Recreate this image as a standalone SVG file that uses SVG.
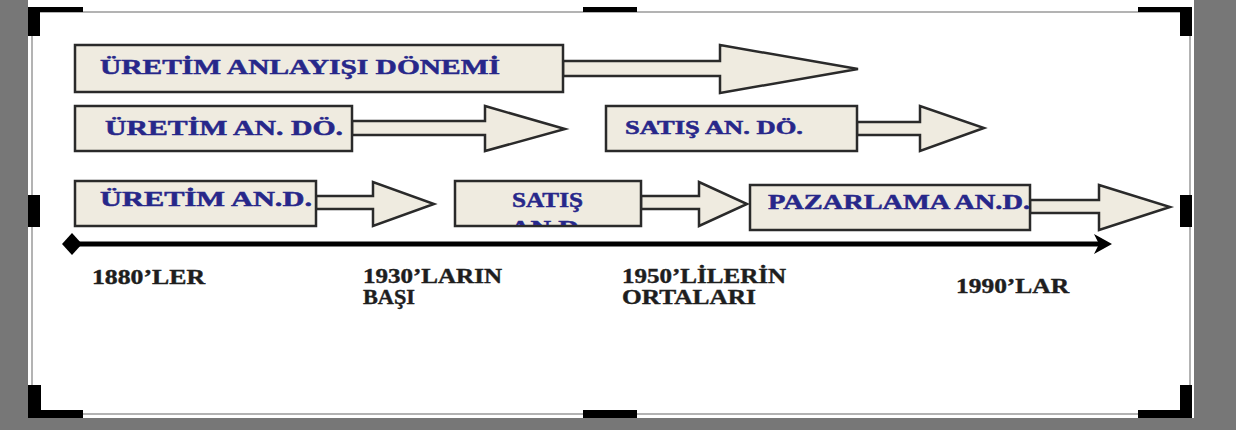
<svg xmlns="http://www.w3.org/2000/svg" width="1236" height="430" viewBox="0 0 1236 430">
<defs>
<style>
.bg{fill:#777777}
.page{fill:#ffffff}
.frame{fill:none;stroke:#9a9a9a;stroke-width:1.5}
.hdl{fill:#000000}
.box{fill:#efebe0;stroke:#2a2a2a;stroke-width:2.5}
.arr{fill:#efebe0;stroke:#2a2a2a;stroke-width:2.5;stroke-linejoin:miter}
.lbl{font-family:"Liberation Serif","Times New Roman",serif;font-weight:bold;fill:#27278a;stroke:#27278a;stroke-width:0.5}
.yr{font-family:"Liberation Serif","Times New Roman",serif;font-weight:bold;fill:#1e1e1e;stroke:#1e1e1e;stroke-width:0.4;font-size:20px}
.axis{stroke:#000;stroke-width:5;fill:none}
</style>
<clipPath id="clipSatis"><rect x="455" y="181" width="187" height="44"/></clipPath>
</defs>
<rect class="bg" x="0" y="0" width="1236" height="430"/>
<rect class="page" x="28" y="0" width="1166" height="418"/>
<rect class="frame" x="32" y="12" width="1158" height="402"/>
<g id="handles">
<path class="hdl" d="M28 7H83V12H40V36H28Z"/>
<rect class="hdl" x="583" y="7" width="54" height="5"/>
<path class="hdl" d="M1138 7H1192V36H1180V12H1138Z"/>
<rect class="hdl" x="28" y="195" width="12" height="32"/>
<rect class="hdl" x="1180" y="195" width="12" height="32"/>
<path class="hdl" d="M28 385H41V410H83V418H28Z"/>
<rect class="hdl" x="583" y="410" width="54" height="8"/>
<path class="hdl" d="M1180 385H1192V418H1138V410H1180Z"/>
</g>
<g id="connectors">
<polygon class="arr" points="563,61 720,61 720,45 858,69 720,93 720,76 563,76"/>
<polygon class="arr" points="352,121 485,121 485,106 565,129 485,151 485,135 352,135"/>
<polygon class="arr" points="857,122 920,122 920,106 984,128 920,151 920,135 857,135"/>
<polygon class="arr" points="316,196 373,196 373,182 434,204 373,226 373,209 316,209"/>
<polygon class="arr" points="641,196 699,196 699,182 747,204 699,226 699,209 641,209"/>
<polygon class="arr" points="1030,200 1099,200 1099,185 1170,207 1099,230 1099,213 1030,213"/>
<line class="axis" x1="72" y1="244" x2="1100" y2="244"/>
<polygon points="1112,244 1094,234 1099,244 1094,254" fill="#000"/>
<polygon points="62,244 72,233 82,244 72,255" fill="#000"/>
</g>
<g id="n1">
<rect class="box" x="75" y="45" width="488" height="47"/>
<text class="lbl" x="100" y="74" font-size="22" textLength="400" lengthAdjust="spacingAndGlyphs">ÜRETİM ANLAYIŞI DÖNEMİ</text>
</g>
<g id="n2">
<rect class="box" x="75" y="106" width="277" height="45"/>
<text class="lbl" x="105" y="135" font-size="22" textLength="238" lengthAdjust="spacingAndGlyphs">ÜRETİM AN. DÖ.</text>
</g>
<g id="n3">
<rect class="box" x="606" y="106" width="251" height="45"/>
<text class="lbl" x="625" y="134" font-size="19" textLength="178" lengthAdjust="spacingAndGlyphs">SATIŞ AN. DÖ.</text>
</g>
<g id="n4">
<rect class="box" x="75" y="181" width="241" height="45"/>
<text class="lbl" x="100" y="206" font-size="22" textLength="212" lengthAdjust="spacingAndGlyphs">ÜRETİM AN.D.</text>
</g>
<g id="n5">
<rect class="box" x="455" y="181" width="186" height="45"/>
<g clip-path="url(#clipSatis)">
<text class="lbl" x="512" y="207" font-size="22" textLength="71" lengthAdjust="spacingAndGlyphs">SATIŞ</text>
<text class="lbl" x="510" y="235" font-size="22" textLength="76" lengthAdjust="spacingAndGlyphs">AN.D.</text>
</g>
</g>
<g id="n6">
<rect class="box" x="750" y="185" width="280" height="45"/>
<text class="lbl" x="768" y="209" font-size="20" textLength="262" lengthAdjust="spacingAndGlyphs">PAZARLAMA AN.D.</text>
</g>
<g id="labels">
<text class="yr" x="92" y="284" textLength="113" lengthAdjust="spacingAndGlyphs">1880’LER</text>
<text class="yr" x="363" y="283" textLength="139" lengthAdjust="spacingAndGlyphs">1930’LARIN</text>
<text class="yr" x="363" y="304" textLength="52" lengthAdjust="spacingAndGlyphs">BAŞI</text>
<text class="yr" x="622" y="283" textLength="164" lengthAdjust="spacingAndGlyphs">1950’LİLERİN</text>
<text class="yr" x="622" y="304" textLength="134" lengthAdjust="spacingAndGlyphs">ORTALARI</text>
<text class="yr" x="956" y="293" textLength="113" lengthAdjust="spacingAndGlyphs">1990’LAR</text>
</g>
</svg>
